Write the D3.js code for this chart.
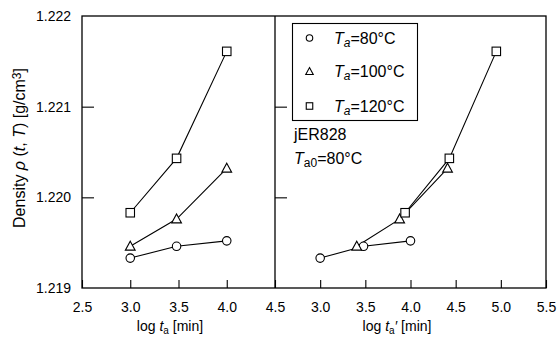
<!DOCTYPE html>
<html>
<head>
<meta charset="utf-8">
<script src="https://cdn.jsdelivr.net/npm/d3@7"></script>
<style>
  html, body { margin: 0; padding: 0; background: #fff; }
  svg { display: block; font-family: "Liberation Sans", Arial, sans-serif; }
</style>
</head>
<body>
<svg id="chart" width="557" height="340"></svg>
<script>
// Density after annealing for three annealing temperatures
const seriesNames = ["80", "100", "120"];
const symbols = ["circle", "triangle", "square"];
const logTa = [
  [3.0, 3.48, 4.0],
  [3.0, 3.48, 4.0],
  [3.0, 3.48, 4.0]
];
// shifted time axis (reference temperature Ta0 = 80 °C)
const logTaShifted = [
  [3.0, 3.48, 4.0],
  [3.405, 3.88, 4.41],
  [3.94, 4.43, 4.95]
];
const density = [
  [1.21933, 1.21946, 1.21952],
  [1.21946, 1.21976, 1.22032],
  [1.21983, 1.22043, 1.22161]
];
const yTicks = [1.219, 1.220, 1.221, 1.222];
const xTicksLeft = [2.5, 3.0, 3.5, 4.0, 4.5];
const xTicksRight = [3.0, 3.5, 4.0, 4.5, 5.0, 5.5];

const svg = d3.select("#chart");
const plotTop = 16, plotBottom = 288, plotLeft = 82, plotMid = 275, plotRight = 546;

const y = d3.scaleLinear().domain([1.219, 1.222]).range([plotBottom, plotTop]);
const xL = d3.scaleLinear().domain([2.5, 4.5]).range([plotLeft, plotMid]);
const xR = d3.scaleLinear().domain([2.5, 5.5]).range([plotMid, plotRight]);

const fs = 14;     // tick labels and x titles
const fsBig = 16;  // y title, legend, annotation

function drawSymbol(g, type, cx, cy, s) {
  if (type === "circle") {
    g.append("circle").attr("cx", cx).attr("cy", cy).attr("r", s / 2)
      .attr("fill", "#fff").attr("stroke", "#000").attr("stroke-width", 1.1);
  } else if (type === "square") {
    g.append("rect").attr("x", cx - s / 2).attr("y", cy - s / 2)
      .attr("width", s).attr("height", s)
      .attr("fill", "#fff").attr("stroke", "#000").attr("stroke-width", 1.1);
  } else {
    const h = s;
    const w = s * 1.15;
    g.append("path")
      .attr("d", `M${cx},${cy - h * 0.6}L${cx + w / 2},${cy + h * 0.45}L${cx - w / 2},${cy + h * 0.45}Z`)
      .attr("fill", "#fff").attr("stroke", "#000").attr("stroke-width", 1.1);
  }
}

function drawPanel(x, xs, ticks) {
  const g = svg.append("g");
  const line = d3.line().x(d => x(d[0])).y(d => y(d[1]));
  xs.forEach((xv, i) => {
    const pts = xv.map((v, j) => [v, density[i][j]]);
    g.append("path").attr("d", line(pts)).attr("fill", "none")
      .attr("stroke", "#000").attr("stroke-width", 1.1);
  });
  xs.forEach((xv, i) => {
    xv.forEach((v, j) => drawSymbol(g, symbols[i], x(v), y(density[i][j]), 8.5));
  });
  // bottom ticks (inward)
  const xAxis = d3.axisBottom(x).tickValues(ticks).tickSize(-8).tickPadding(14)
    .tickFormat(d3.format(".1f"));
  const ax = svg.append("g").attr("transform", `translate(0,${plotBottom})`).call(xAxis);
  ax.select(".domain").remove();
  ax.selectAll("line").attr("stroke", "#000").attr("stroke-width", 1.1);
  ax.selectAll("text").attr("font-size", fs).attr("fill", "#000")
    .attr("font-family", "Liberation Sans, Arial, sans-serif");
  // left ticks (inward)
  const yAxis = d3.axisRight(y).tickValues(yTicks.slice(1, 3)).tickSize(12).tickFormat("");
  const ay = svg.append("g").attr("transform", `translate(${x.range()[0]},0)`).call(yAxis);
  ay.select(".domain").remove();
  ay.selectAll("line").attr("stroke", "#000").attr("stroke-width", 1.1);
}

drawPanel(xL, logTa, xTicksLeft);
drawPanel(xR, logTaShifted, xTicksRight);

// y tick labels
svg.append("g").selectAll("text").data(yTicks).join("text")
  .attr("x", 71).attr("y", d => y(d)).attr("dy", "0.35em")
  .attr("text-anchor", "end").attr("font-size", fs).text(d => d3.format(".3f")(d));

// frames
svg.append("rect").attr("x", plotLeft).attr("y", plotTop)
  .attr("width", plotRight - plotLeft).attr("height", plotBottom - plotTop)
  .attr("fill", "none").attr("stroke", "#000").attr("stroke-width", 1.3);
svg.append("line").attr("x1", plotMid).attr("x2", plotMid).attr("y1", plotTop).attr("y2", plotBottom)
  .attr("stroke", "#000").attr("stroke-width", 1.3);

// axis titles
const tl = svg.append("text").attr("x", 170).attr("y", 331).attr("text-anchor", "middle").attr("font-size", fs);
tl.append("tspan").text("log ");
tl.append("tspan").attr("font-style", "italic").text("t");
tl.append("tspan").attr("font-size", 10).attr("dy", 3).text("a");
tl.append("tspan").attr("dy", -3).text(" [min]");

const tr = svg.append("text").attr("x", 397).attr("y", 331).attr("text-anchor", "middle").attr("font-size", fs);
tr.append("tspan").text("log ");
tr.append("tspan").attr("font-style", "italic").text("t");
tr.append("tspan").attr("font-size", 10).attr("dy", 3).text("a");
tr.append("tspan").attr("dy", -3).attr("font-style", "italic").text("\u2032");
tr.append("tspan").text(" [min]");

const yl = svg.append("text").attr("transform", "translate(25,148) rotate(-90)")
  .attr("text-anchor", "middle").attr("font-size", fsBig);
yl.append("tspan").text("Density  ");
yl.append("tspan").attr("font-style", "italic").text("\u03c1");
yl.append("tspan").text(" (");
yl.append("tspan").attr("font-style", "italic").text("t");
yl.append("tspan").text(", ");
yl.append("tspan").attr("font-style", "italic").text("T");
yl.append("tspan").text(") [g/cm");
yl.append("tspan").attr("font-size", 12).attr("dy", -4).text("3");
yl.append("tspan").attr("dy", 4).text("]");

// legend
const lg = svg.append("g");
lg.append("rect").attr("x", 292.5).attr("y", 23.5).attr("width", 125).attr("height", 97)
  .attr("fill", "#fff").attr("stroke", "#000").attr("stroke-width", 1.1);
const rowY = [38, 71.5, 106];
seriesNames.forEach((name, i) => {
  drawSymbol(lg, symbols[i], 309.5, rowY[i], 6.5);
  const t = lg.append("text").attr("x", 334).attr("y", rowY[i]).attr("dy", "0.36em").attr("font-size", fsBig);
  t.append("tspan").attr("font-style", "italic").text("T");
  t.append("tspan").attr("font-style", "italic").attr("font-size", 12).attr("dy", 3).text("a");
  t.append("tspan").attr("dy", -3).text("=" + name + "\u00b0C");
});

// material and reference temperature
svg.append("text").attr("x", 294).attr("y", 139.5).attr("font-size", fsBig).text("jER828");
const r0 = svg.append("text").attr("x", 294).attr("y", 164).attr("font-size", fsBig);
r0.append("tspan").attr("font-style", "italic").text("T");
r0.append("tspan").attr("font-size", 12).attr("dy", 3).text("a0");
r0.append("tspan").attr("dy", -3).text("=80\u00b0C");
</script>
</body>
</html>
